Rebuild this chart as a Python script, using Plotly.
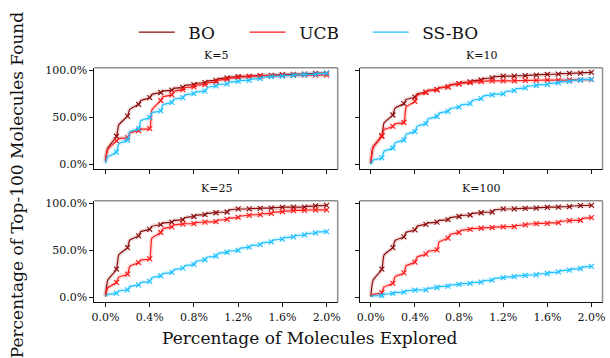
import plotly.graph_objects as go

# x positions (percentage of molecules explored) where markers are placed
explored_pct = [0.0, 0.1, 0.2, 0.3, 0.4, 0.5, 0.6, 0.7, 0.8, 0.9, 1.0,
                1.1, 1.2, 1.3, 1.4, 1.5, 1.6, 1.7, 1.8, 1.9, 2.0]
# within each batch the curve rises quickly; values are also given just after each marker
knee_offset = 0.02

methods = ["BO", "UCB", "SS-BO"]
panels = ["K=5", "K=10", "K=25", "K=100"]

# ---- K=5 ----
k5_bo = [4, 30, 51.5, 64, 71, 76.5, 79, 82, 85, 87, 89.5, 92, 93.3, 93.7, 94.4, 94.7, 95.4, 95.8, 96.1, 96.8, 97.2]
k5_bo_knee = [17, 42, 58.5, 68, 74.5, 78, 81, 84, 86.3, 88.7, 91.2, 92.9, 93.6, 94.2, 94.6, 95.2, 95.7, 96, 96.6, 97.1]
k5_ucb = [3, 25, 28.5, 36, 38, 68, 74, 79.6, 82.5, 85, 87.7, 90.5, 92.3, 93.3, 94, 94.4, 94.7, 94.8, 94.9, 95, 95]
k5_ucb_knee = [16, 27.5, 33.5, 37.5, 58, 72, 77.8, 81.6, 84.2, 86.8, 89.6, 91.7, 93, 93.8, 94.3, 94.6, 94.8, 94.9, 95, 95]
k5_ss = [1, 13, 26, 38, 50, 57, 66, 71, 75.4, 78, 83.5, 85.6, 88.4, 89.5, 91.2, 93.3, 94, 94.7, 95.4, 95.8, 96.8]
k5_ss_knee = [8, 22, 35, 46.5, 55, 63.5, 69.5, 74, 77.2, 81.8, 85, 87.5, 89.2, 90.7, 92.7, 93.8, 94.5, 95.2, 95.7, 96.5]

# ---- K=10 ----
k10_bo = [1, 30.5, 52.6, 64.6, 71.6, 77, 79.6, 82.5, 86, 87.7, 90, 92, 94, 94, 94.4, 95, 95.8, 96, 96.8, 97.2, 97.9]
k10_bo_knee = [18, 44, 60, 69, 75, 78.6, 81.5, 84.6, 87.1, 89, 91.3, 93.3, 94, 94.3, 94.8, 95.5, 95.9, 96.5, 97, 97.6]
k10_ucb = [1, 30, 40.4, 44.6, 67, 76.5, 79.3, 82.5, 85.6, 87, 88, 88.8, 88.8, 89, 89.3, 89.5, 89.6, 89.7, 89.8, 90, 90.3]
k10_ucb_knee = [18, 37, 43.2, 61, 73.5, 78.4, 81.4, 84.5, 86.5, 87.6, 88.5, 88.8, 88.9, 89.2, 89.4, 89.55, 89.65, 89.75, 89.9, 90.2]
k10_ss = [0, 7, 17.5, 26, 35, 43.5, 51, 56.5, 61, 64.6, 70, 74, 75, 78.6, 81.4, 84, 85, 86.7, 88.4, 89.8, 90.5]
k10_ss_knee = [4.5, 14, 23, 32, 40.5, 48.5, 54.7, 59.5, 63.4, 68, 72.7, 74.7, 77.4, 80.5, 83.1, 84.7, 86.1, 87.8, 89.3, 90.3]

# ---- K=25 ----
k25_bo = [1, 30, 53, 65.4, 72.4, 77.4, 80, 82.7, 86, 88, 90, 90.8, 94, 94, 94.7, 95, 95.8, 96, 96, 97.2, 97.9]
k25_bo_knee = [18, 45, 61, 70, 75.6, 79, 81.8, 84.8, 87.3, 89.3, 90.5, 92.8, 94, 94.4, 94.9, 95.5, 95.9, 96, 96.8, 97.6]
k25_ucb = [1, 16, 24.7, 37, 41, 69, 75, 78, 78.4, 80, 80.5, 83, 85, 87.3, 88, 89.4, 91.2, 92.2, 92.6, 93, 93]
k25_ucb_knee = [10, 21.5, 33, 39.8, 63, 73, 77, 78.3, 79.5, 80.3, 82, 84.2, 86.5, 87.8, 88.9, 90.6, 91.8, 92.5, 92.9, 93]
k25_ss = [1, 4.5, 8, 13.4, 17, 23, 26.5, 31, 35, 40, 44, 48, 50, 53.4, 56, 59, 62, 64.3, 66.4, 68.5, 70]
k25_ss_knee = [3, 6.8, 11.5, 15.8, 21, 25.3, 29.5, 33.6, 38.3, 42.6, 46.7, 49.3, 52.2, 55.1, 58, 61, 63.5, 65.7, 67.8, 69.5]

# ---- K=100 ----
k100_bo = [1, 30, 53, 64.3, 71.7, 77.7, 80, 82.7, 86, 87.6, 90, 90.8, 94, 94, 94.7, 95, 95.8, 96, 96.5, 97.5, 97.9]
k100_bo_knee = [18, 45, 60.5, 69.2, 75.7, 79.2, 81.8, 84.8, 87.1, 89.2, 90.5, 92.8, 94, 94.4, 94.9, 95.5, 95.9, 96.3, 97.1, 97.7]
k100_ucb = [1, 5, 15, 26, 37.5, 46, 50.5, 63, 69, 72.4, 73.5, 74.2, 75, 75.3, 77, 78.4, 78.8, 79.5, 81.6, 82, 84.8]
k100_ucb_knee = [3, 11, 22, 33.5, 43, 49, 59, 67, 71.3, 73.1, 74, 74.7, 75.2, 76.3, 77.9, 78.6, 79.2, 80.8, 81.8, 83.8]
k100_ss = [1, 2, 4.2, 5.6, 7.7, 8, 10.5, 12, 13.8, 14.8, 16.2, 18.4, 21, 22, 23.3, 24, 25.4, 27, 29, 30.7, 33]
k100_ss_knee = [1.6, 3.4, 5.1, 6.9, 7.9, 9.6, 11.5, 13.1, 14.4, 15.7, 17.6, 20, 21.6, 22.8, 23.7, 24.9, 26.4, 28.2, 30, 32]

y_tickvals = [0, 50, 100]
y_ticktext = ["0.0%", "50.0%", "100.0%"]
x_tickvals = [0.0, 0.4, 0.8, 1.2, 1.6, 2.0]
x_ticktext = ["0.0%", "0.4%", "0.8%", "1.2%", "1.6%", "2.0%"]

series = {
    "K=5": [(k5_bo, k5_bo_knee), (k5_ucb, k5_ucb_knee), (k5_ss, k5_ss_knee)],
    "K=10": [(k10_bo, k10_bo_knee), (k10_ucb, k10_ucb_knee), (k10_ss, k10_ss_knee)],
    "K=25": [(k25_bo, k25_bo_knee), (k25_ucb, k25_ucb_knee), (k25_ss, k25_ss_knee)],
    "K=100": [(k100_bo, k100_bo_knee), (k100_ucb, k100_ucb_knee), (k100_ss, k100_ss_knee)],
}

colors = {"BO": "#8b0a0a", "UCB": "#ff1a1a", "SS-BO": "#1ec0ff"}
halo = {"BO": "rgba(139,10,10,0.13)", "UCB": "rgba(255,26,26,0.15)", "SS-BO": "rgba(30,192,255,0.15)"}
legend_w = {"BO": 60, "UCB": 72, "SS-BO": 66}
legend_pad = "\u2002"

FONT = "DejaVu Serif"
W, H = 610, 358

# panel frames in pixels: (left, right, top, bottom)
frames = {
    "K=5": (92.3, 338.0, 65.7, 168.8),
    "K=10": (360.3, 605.5, 65.7, 168.8),
    "K=25": (92.3, 338.0, 200.5, 303.6),
    "K=100": (360.3, 605.5, 200.5, 303.6),
}


def curve(markers, knees):
    xs, ys = [], []
    for i in range(len(explored_pct) - 1):
        xs += [explored_pct[i], explored_pct[i] + knee_offset]
        ys += [markers[i], knees[i]]
    xs.append(explored_pct[-1])
    ys.append(markers[-1])
    return xs, ys


fig = go.Figure()
layout = dict(
    width=W, height=H, margin=dict(l=0, r=0, t=0, b=0),
    paper_bgcolor="white", plot_bgcolor="white",
    font=dict(family=FONT, color="#111"),
    showlegend=True,
    legend=dict(orientation="h", x=132 / W, xanchor="left", y=1 - 30 / H, yanchor="middle",
                font=dict(family=FONT, size=17, color="#111"), itemwidth=36,
                bgcolor="rgba(0,0,0,0)"),
)
annotations = []
shapes = []

for idx, panel in enumerate(panels):
    n = idx + 1
    xa = "x" if n == 1 else f"x{n}"
    ya = "y" if n == 1 else f"y{n}"
    l, r, t, b = frames[panel]
    bottom_row = panel in ("K=25", "K=100")
    layout["xaxis" if n == 1 else f"xaxis{n}"] = dict(
        domain=[l / W, r / W], range=[-0.1, 2.1], anchor=ya,
        tickvals=x_tickvals, ticktext=x_ticktext, showticklabels=bottom_row,
        ticks="outside", ticklen=4, tickcolor="#111", showline=True, linecolor="#111",
        linewidth=1, showgrid=False, zeroline=False,
        tickfont=dict(family=FONT, size=11, color="#111"),
    )
    layout["yaxis" if n == 1 else f"yaxis{n}"] = dict(
        domain=[1 - b / H, 1 - t / H], range=[-5.3, 102.8], anchor=xa,
        tickvals=y_tickvals, ticktext=y_ticktext, showticklabels=(panel in ("K=5", "K=25")),
        ticks="outside", ticklen=4, tickcolor="#111", showline=True, linecolor="#111",
        linewidth=1, showgrid=False, zeroline=False,
        tickfont=dict(family=FONT, size=11, color="#111"),
    )
    # light top/right frame edges
    shapes.append(dict(type="line", xref=f"{xa} domain", yref=f"{ya} domain", x0=0, x1=1, y0=1, y1=1,
                       line=dict(color="#8f8f8f", width=1.5)))
    shapes.append(dict(type="line", xref=f"{xa} domain", yref=f"{ya} domain", x0=1, x1=1, y0=0, y1=1,
                       line=dict(color="#8f8f8f", width=1.5)))
    annotations.append(dict(text=panel, x=(l + r) / 2 / W, y=1 - (t - 12) / H, xref="paper", yref="paper",
                            showarrow=False, xanchor="center", yanchor="middle",
                            font=dict(family=FONT, size=11, color="#111")))

    for m, (marks, knees) in zip(methods, series[panel]):
        cx, cy = curve(marks, knees)
        fig.add_trace(go.Scatter(x=cx, y=cy, mode="lines", xaxis=xa, yaxis=ya,
                                 line=dict(color=halo[m], width=4.5, shape="spline", smoothing=0.5),
                                 showlegend=False, hoverinfo="skip"))
        fig.add_trace(go.Scatter(x=cx, y=cy, mode="lines", xaxis=xa, yaxis=ya,
                                 line=dict(color=colors[m], width=1.2, shape="spline", smoothing=0.5),
                                 name=legend_pad + m,
                                 legendgroup=m, showlegend=(n == 1), legendwidth=legend_w[m]))
        fig.add_trace(go.Scatter(x=explored_pct[1:], y=marks[1:], mode="markers", xaxis=xa, yaxis=ya,
                                 marker=dict(symbol="x-thin", size=5, line=dict(color=colors[m], width=1.1)),
                                 legendgroup=m, showlegend=False))

annotations.append(dict(text="Percentage of Molecules Explored", x=310 / W, y=1 - 340 / H,
                        xref="paper", yref="paper", showarrow=False, xanchor="center", yanchor="middle",
                        font=dict(family=FONT, size=17, color="#111")))
annotations.append(dict(text="Percentage of Top-100 Molecules Found", x=15 / W, y=1 - 184 / H,
                        xref="paper", yref="paper", showarrow=False, xanchor="center", yanchor="middle",
                        textangle=-90, font=dict(family=FONT, size=17, color="#111")))

layout["annotations"] = annotations
layout["shapes"] = shapes
fig.update_layout(**layout)
fig.write_html("out.html")
